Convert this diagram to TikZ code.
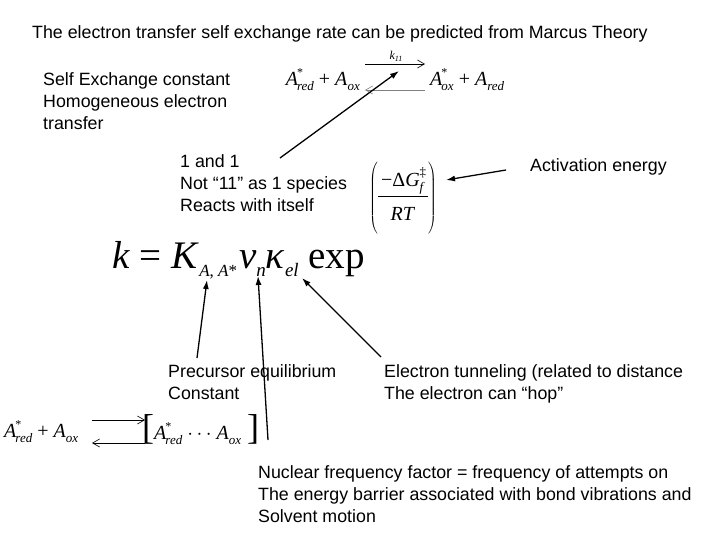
\documentclass[tikz,border=0pt]{standalone}
\usepackage{fontspec}
\setmainfont{Liberation Sans}
\newfontfamily\tms{Liberation Serif}
\usetikzlibrary{arrows.meta}
\tikzset{
  lbl/.style={anchor=north west,align=left,font=\fontsize{17.8}{22}\selectfont,inner sep=0pt},
  eq/.style={font=\tms\fontsize{20}{24}\selectfont,inner sep=0pt},
  pt/.style={-{Latex[length=9pt,width=6pt]},line width=1.3pt},
  rx/.style={-{Straight Barb[length=7pt,width=8pt]},line width=0.6pt}
}
\newcommand{\Sp}[2]{\textit{A}\kern-1pt\makebox[0pt][l]{\raisebox{9pt}{\fontsize{12}{12}\selectfont *}}\raisebox{-5pt}{\fontsize{13}{13}\selectfont\textit{#2}}}
\newcommand{\Sb}[1]{\textit{A}\raisebox{-5pt}{\fontsize{13}{13}\selectfont\textit{#1}}}
\begin{document}
\begin{tikzpicture}[x=1pt,y=-1pt]
\useasboundingbox (0,0) rectangle (720,540);
\node[lbl] (title) at (32,25) {The electron transfer self exchange rate can be predicted from Marcus Theory};
\node[lbl] (self) at (43,72) {Self Exchange constant\\Homogeneous electron\\transfer};
% top reaction
\node[eq,anchor=east] (r1) at (360,80) {\Sp{}{red} + \Sb{ox}};
\node[eq,anchor=west] (p1) at (430,80) {\Sp{}{ox} + \Sb{red}};
\coordinate (f1a) at (365,64); \coordinate (f1b) at (425,64);
\coordinate (b1a) at (425,90); \coordinate (b1b) at (365,90);
\draw[rx] (f1a) -- (f1b);
\draw[rx,gray] (b1a) -- (b1b);
\node[font=\tms\itshape\fontsize{12}{12}\selectfont] (k11) at (396,56) {k\raisebox{-2pt}{\fontsize{8}{8}\selectfont 11}};
\node[lbl] (one) at (180,154) {1 and 1\\Not “11” as 1 species\\Reacts with itself};
\coordinate (t1) at (399,71);
\draw[pt] (280,158) -- (t1);
% exponent
\node[inner sep=0pt] (expo) at (403,197) {\fontsize{24}{28}\selectfont$\left(\vcenter{\hbox{\tms\fontsize{20}{24}\selectfont\begin{tabular}{@{\,}c@{\,}}−Δ\textit{G}\makebox[0pt][l]{\raisebox{10pt}{\fontsize{13}{13}\selectfont ‡}}\raisebox{-5pt}{\fontsize{13}{13}\selectfont\textit{f}}\\[2pt]\hline\rule{0pt}{24pt}\textit{RT}\end{tabular}}}\vphantom{\rule{0pt}{44pt}}\right)$};
\node[lbl] (act) at (530,158) {Activation energy};
\coordinate (a0) at (506,170);
\draw[pt] (a0) -- (446,180);
% main equation
\node[eq,anchor=base west,font=\tms\fontsize{39}{44}\selectfont] (keq) at (112,268) {\textit{k} = \textit{K}\raisebox{-9pt}{\fontsize{17}{20}\selectfont\textit{A}, \textit{A}*}\kern2pt\textit{ν}\raisebox{-8pt}{\fontsize{19}{22}\selectfont\textit{n}}\textit{κ}\raisebox{-8pt}{\fontsize{19}{22}\selectfont\textit{el}} exp};
\node[lbl] (prec) at (168,364) {Precursor equilibrium\\Constant};
\node[lbl] (tun) at (384,364) {Electron tunneling (related to distance\\The electron can “hop”};
\node[lbl] (nuc) at (258,465) {Nuclear frequency factor = frequency of attempts on\\The energy barrier associated with bond vibrations and\\Solvent motion};
\coordinate (k1) at (207,280); \coordinate (k2) at (258,276); \coordinate (k3) at (302,278);
\draw[pt] (197,358) -- (k1);
\draw[pt] (268,440) -- (k2);
\draw[pt] (381,357) -- (k3);
% bottom reaction
\node[eq,anchor=west] (r2) at (4,432) {\Sp{}{red} + \Sb{ox}};
\draw[rx] (92,420) -- (145,420);
\draw[rx] (145,443) -- (92,443);
\node[eq,anchor=west] (c2) at (142,430) {{\fontsize{36}{36}\selectfont[}\Sp{}{red} $\cdots$ \Sb{ox}{\fontsize{36}{36}\selectfont\,]}};
\end{tikzpicture}
\end{document}
